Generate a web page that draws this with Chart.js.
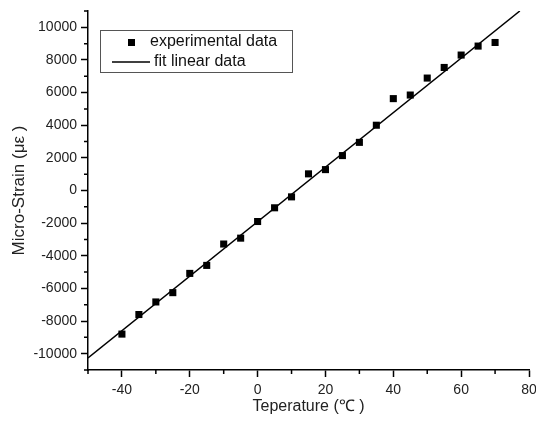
<!DOCTYPE html>
<html>
<head>
<meta charset="utf-8">
<script src="https://cdn.jsdelivr.net/npm/chart.js@4/dist/chart.umd.min.js"></script>
<style>
    html, body { margin: 0; padding: 0; background: #fff; }
    #wrap { width: 536px; height: 425px; }
</style>
</head>
<body>
<div id="wrap"><canvas id="strain-chart"></canvas></div>
<script>
// Data
const temperatures = [-40, -35, -30, -25, -20, -15, -10, -5, 0, 5, 10, 15, 20, 25, 30, 35, 40, 45, 50, 55, 60, 65, 70];
const microStrain = [-8800, -7600, -6830, -6260, -5080, -4590, -3280, -2920, -1900, -1060, -390, 1020, 1280, 2140, 2950, 4000, 5630, 5850, 6890, 7540, 8300, 8850, 9070];
const fitX = [-50, 77.3];
const fitY = [-10260, 11000];

const xTicks = [-40, -20, 0, 20, 40, 60, 80];
const xMinorTicks = [-50, -30, -10, 10, 30, 50, 70];
const yTicks = [-10000, -8000, -6000, -4000, -2000, 0, 2000, 4000, 6000, 8000, 10000];
const yMinorTicks = [-11000, -9000, -7000, -5000, -3000, -1000, 1000, 3000, 5000, 7000, 9000, 11000];

const FONT = "'Liberation Sans', Arial, sans-serif";

// Small outward ticks between the labelled ones
const minorTicks = {
    id: "minorTicks",
    afterDraw(chart) {
        const ctx = chart.ctx;
        const x = chart.scales.x;
        const y = chart.scales.y;
        ctx.save();
        ctx.strokeStyle = "#000";
        ctx.lineWidth = 1.5;
        ctx.beginPath();
        xMinorTicks.forEach((v) => {
            const px = x.getPixelForValue(v);
            ctx.moveTo(px, x.top);
            ctx.lineTo(px, x.top + 4);
        });
        yMinorTicks.forEach((v) => {
            const py = y.getPixelForValue(v);
            ctx.moveTo(y.right, py);
            ctx.lineTo(y.right - 4, py);
        });
        ctx.stroke();
        ctx.restore();
    },
};

// Boxed legend inside the plot, top left
const boxLegend = {
    id: "boxLegend",
    afterDraw(chart) {
        const ctx = chart.ctx;
        const ds = chart.data.datasets;
        ctx.save();
        ctx.strokeStyle = "#555";
        ctx.lineWidth = 1;
        ctx.strokeRect(100.5, 30.5, 192, 42);
        ctx.fillStyle = "#000";
        ctx.fillRect(128, 39, 7, 7);
        ctx.strokeStyle = "#000";
        ctx.lineWidth = 1.5;
        ctx.beginPath();
        ctx.moveTo(112, 62);
        ctx.lineTo(150, 62);
        ctx.stroke();
        ctx.font = "16px " + FONT;
        ctx.textBaseline = "middle";
        ctx.fillStyle = "#111";
        ctx.fillText(ds[0].label, 150, 42);
        ctx.fillText(ds[1].label, 154, 62);
        ctx.restore();
    },
};

new Chart(document.getElementById("strain-chart"), {
    type: "scatter",
    data: {
        datasets: [
            {
                label: "experimental data",
                data: temperatures.map((t, i) => ({ x: t, y: microStrain[i] })),
                pointStyle: "rect",
                pointRadius: 5,
                pointHoverRadius: 5,
                backgroundColor: "#000",
                borderColor: "#000",
                borderWidth: 0,
            },
            {
                type: "line",
                label: "fit linear data",
                data: fitX.map((x, i) => ({ x: x, y: fitY[i] })),
                borderColor: "#000",
                borderWidth: 1.5,
                pointRadius: 0,
                fill: false,
            },
        ],
    },
    options: {
        responsive: true,
        maintainAspectRatio: false,
        animation: false,
        layout: { padding: { top: 11, right: 7, left: 0, bottom: 0 } },
        plugins: {
            legend: { display: false },
            tooltip: { enabled: false },
        },
        scales: {
            x: {
                type: "linear",
                min: -50,
                max: 80,
                afterBuildTicks: (scale) => {
                    scale.ticks = xTicks.map((v) => ({ value: v }));
                },
                afterFit: (scale) => {
                    scale.height = 55;
                    scale.paddingLeft = 0;
                    scale.paddingRight = 0;
                },
                grid: {
                    drawOnChartArea: false,
                    drawTicks: true,
                    tickLength: 7,
                    tickColor: "#000",
                    tickWidth: 1.5,
                },
                border: { display: true, color: "#000", width: 1.5 },
                ticks: {
                    color: "#222",
                    font: { family: FONT, size: 14 },
                    padding: 5,
                    maxRotation: 0,
                    callback: (v) => String(v),
                },
                title: {
                    display: true,
                    text: "Teperature (℃ )",
                    color: "#222",
                    font: { family: FONT, size: 16 },
                    padding: { top: 0, bottom: 9 },
                },
            },
            y: {
                type: "linear",
                min: -11000,
                max: 11000,
                afterBuildTicks: (scale) => {
                    scale.ticks = yTicks.map((v) => ({ value: v }));
                },
                afterFit: (scale) => {
                    scale.width = 88;
                    scale.paddingTop = 0;
                    scale.paddingBottom = 0;
                },
                grid: {
                    drawOnChartArea: false,
                    drawTicks: true,
                    tickLength: 7,
                    tickColor: "#000",
                    tickWidth: 1.5,
                },
                border: { display: true, color: "#000", width: 1.5 },
                ticks: {
                    color: "#222",
                    font: { family: FONT, size: 14 },
                    padding: 4,
                    callback: (v) => String(v),
                },
                title: {
                    display: true,
                    text: "Micro-Strain (με )",
                    color: "#222",
                    font: { family: FONT, size: 17 },
                    padding: { top: 9, bottom: 0 },
                },
            },
        },
    },
    plugins: [minorTicks, boxLegend],
});
</script>
</body>
</html>
